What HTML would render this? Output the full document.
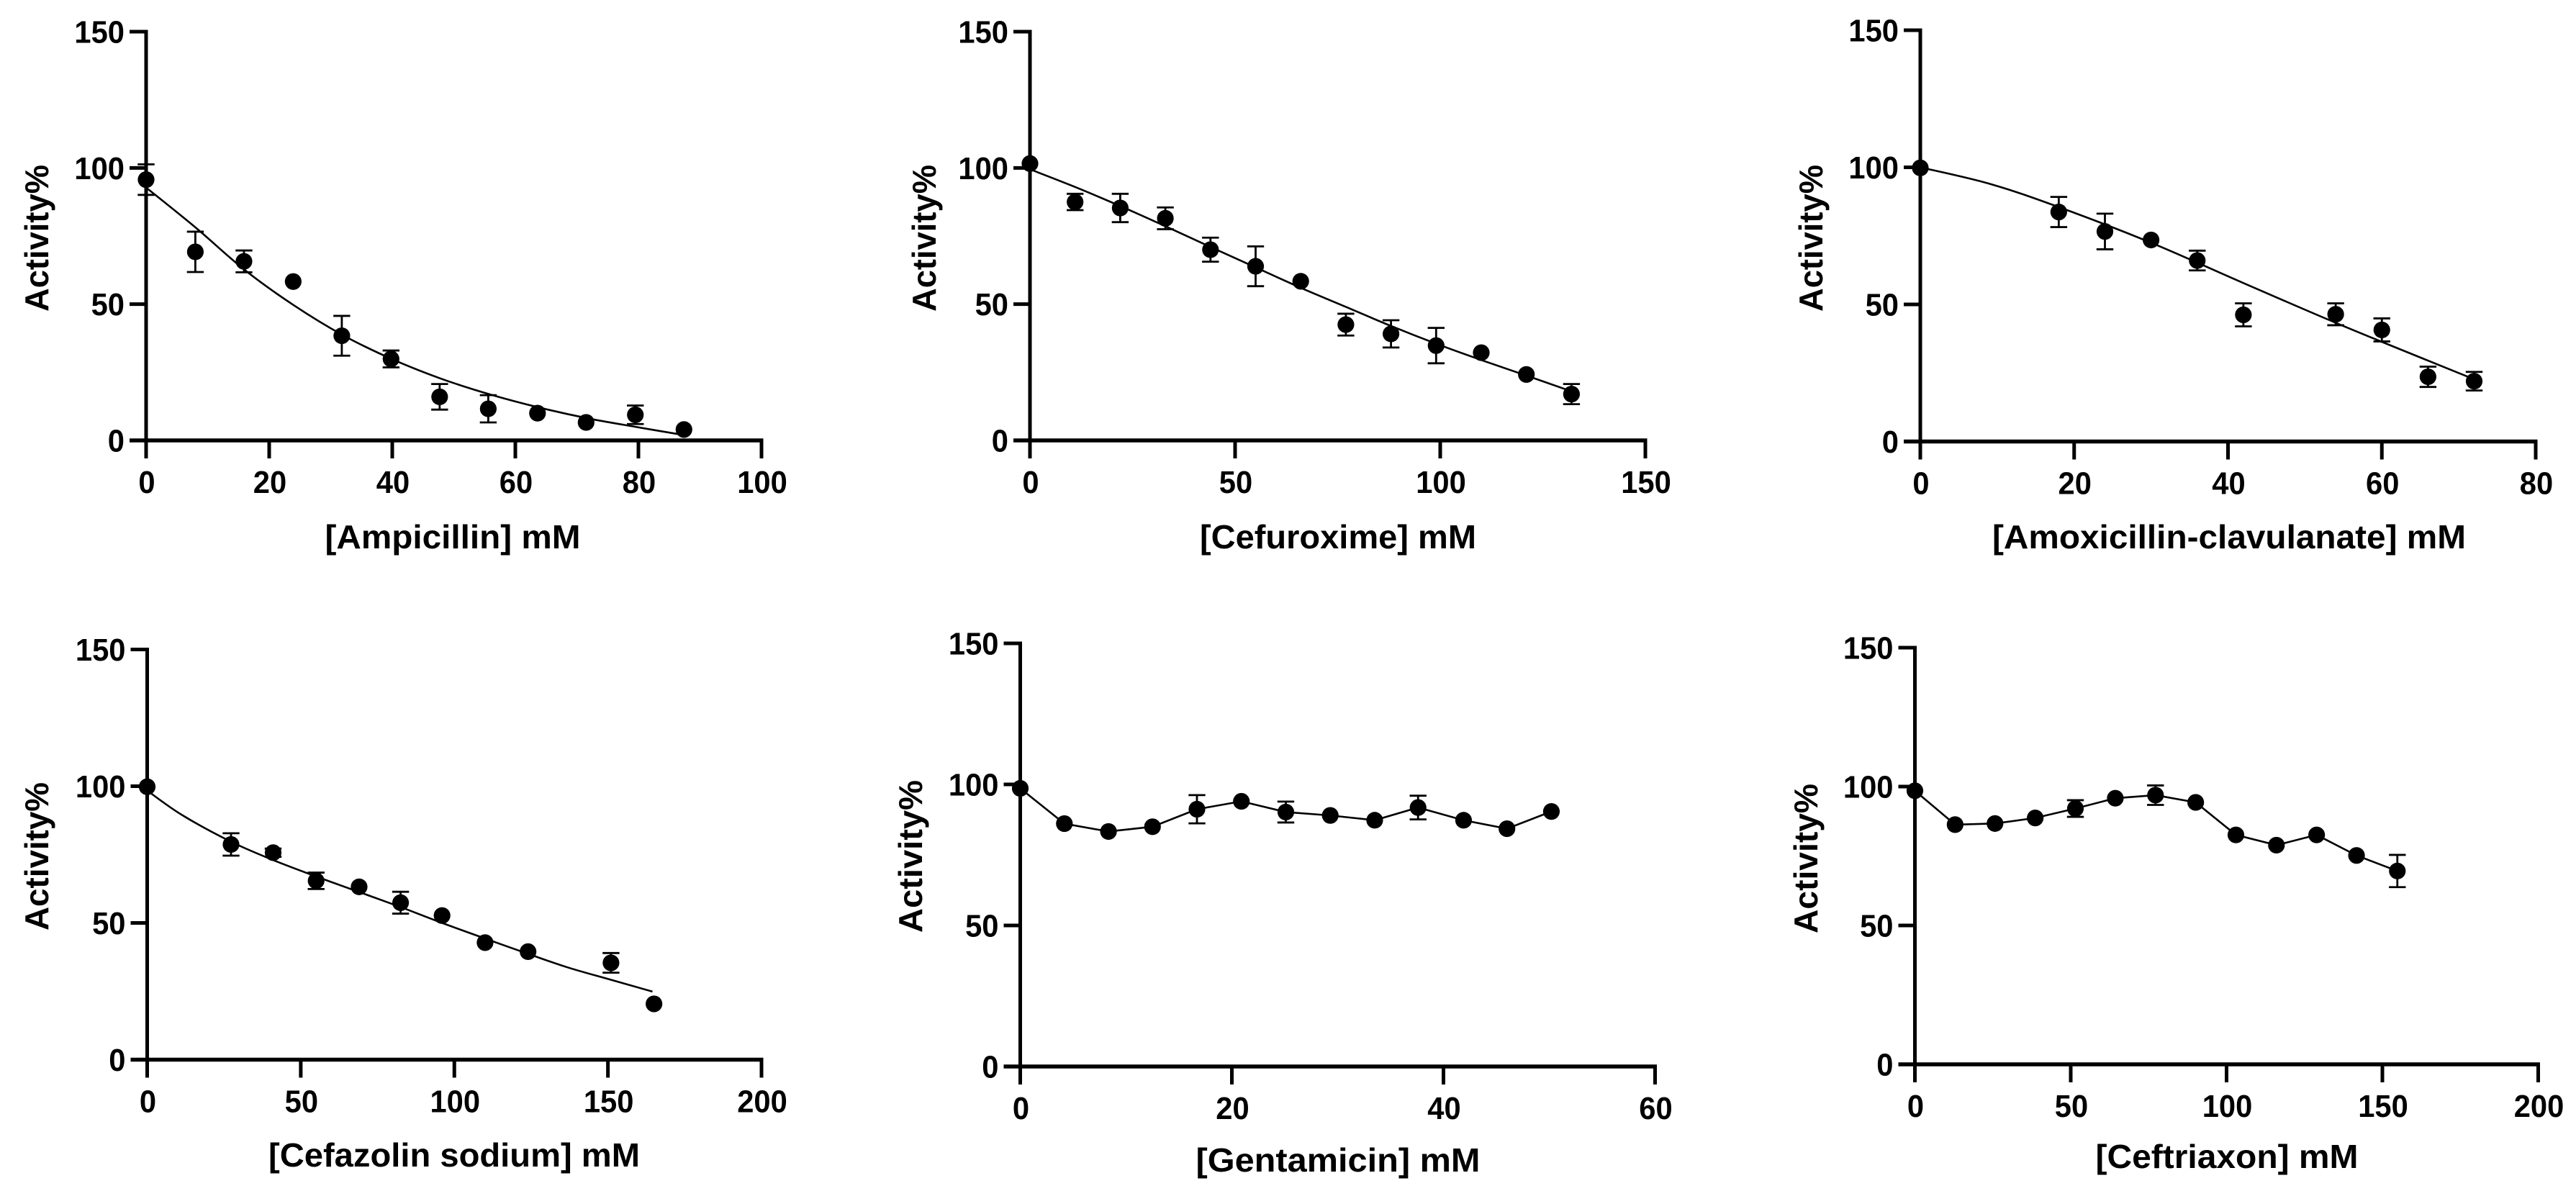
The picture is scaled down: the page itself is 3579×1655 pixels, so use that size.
<!DOCTYPE html>
<html lang="en">
<head>
<meta charset="utf-8">
<title>Enzyme activity versus antibiotic concentration</title>
<style>
html,body{margin:0;padding:0;background:#fff;width:3579px;height:1655px;overflow:hidden}
svg{display:block;position:absolute;left:0;top:0}
text{font-family:"Liberation Sans",Arial,sans-serif;font-weight:700;fill:#000}
</style>
</head>
<body>
<svg id="figure" xmlns="http://www.w3.org/2000/svg" width="3579" height="1655" viewBox="0 0 3579 1655"></svg>
<script>
const activityTicks = [0, 50, 100, 150];

const ampicillinConc = [0, 8, 15.9, 23.9, 31.8, 39.8, 47.7, 55.6, 63.6, 71.5, 79.5, 87.4];
const ampicillinActivity = [95.7, 69.2, 65.7, 58.3, 38.4, 29.9, 16, 11.6, 10, 6.6, 9.4, 4];
const ampicillinError = [5.6, 7.4, 4, 0, 7.3, 3.1, 4.7, 5, 0, 0, 3.4, 0];
const ampicillinFitConc = [0, 8, 16, 24, 32, 40, 48, 56, 64, 72, 80, 87.3];
const ampicillinFitActivity = [92.8, 78.2, 62.6, 49.6, 38.6, 29.8, 22.6, 16.8, 12, 8, 4.8, 2];
const ampicillinTicks = [0, 20, 40, 60, 80, 100];

const cefuroximeConc = [0, 11, 22, 33, 44, 55, 66, 77, 88, 99, 110, 121, 132];
const cefuroximeActivity = [101.6, 87.5, 85.3, 81.5, 70, 63.9, 58.4, 42.5, 39.1, 34.8, 32.2, 24.2, 17];
const cefuroximeError = [0, 3, 5.2, 4, 4.4, 7.3, 0, 4, 5, 6.5, 0, 0, 3.7];
const cefuroximeFitConc = [0, 11, 22, 33, 44, 55, 66, 77, 88, 99, 110, 121, 132];
const cefuroximeFitActivity = [99.5, 93, 86, 78.6, 71, 63.5, 56, 49, 42, 35.5, 29.5, 23.8, 18];
const cefuroximeTicks = [0, 50, 100, 150];

const amoxClavConc = [0, 18, 24, 30, 36, 42, 54, 60, 66, 72];
const amoxClavActivity = [99.8, 83.7, 76.6, 73.5, 66, 46.2, 46.4, 40.7, 23.6, 22];
const amoxClavError = [0, 5.5, 6.5, 0, 3.6, 4.2, 4, 4.2, 3.7, 3.4];
const amoxClavFitConc = [0, 9, 18, 30, 42, 54, 66, 72];
const amoxClavFitActivity = [100, 94, 85.5, 72.5, 57.8, 43.3, 29.5, 22.7];
const amoxClavTicks = [0, 20, 40, 60, 80];

const cefazolinConc = [0, 27.3, 41, 55, 69, 82.5, 96, 110, 124, 151, 165];
const cefazolinActivity = [99.8, 78.7, 75.7, 65.4, 63.2, 57.4, 52.7, 42.8, 39.5, 35.4, 20.4];
const cefazolinError = [0, 4.1, 1.5, 3, 0, 4, 0, 0, 0, 3.6, 0];
const cefazolinFitConc = [0, 11.3, 27.3, 41, 55, 69, 82.5, 96, 110, 124, 137, 151, 164.5];
const cefazolinFitActivity = [98.4, 89.5, 79.7, 73, 67, 61.3, 55.8, 50, 44.3, 38.7, 33.7, 29.2, 24.9];
const cefazolinTicks = [0, 50, 100, 150, 200];

const gentamicinConc = [0, 4.17, 8.34, 12.5, 16.7, 20.9, 25.1, 29.3, 33.5, 37.6, 41.9, 46, 50.2];
const gentamicinActivity = [98.6, 86.1, 83.3, 85, 91.2, 94, 90.2, 89, 87.3, 91.8, 87.3, 84.3, 90.4];
const gentamicinError = [0, 0, 0, 0, 5, 0, 3.7, 0, 0, 4.2, 0, 0, 0];
const gentamicinTicks = [0, 20, 40, 60];

const ceftriaxonConc = [0, 12.9, 25.7, 38.6, 51.5, 64.3, 77.2, 90.1, 103, 116, 128.9, 141.7, 154.8];
const ceftriaxonActivity = [98.5, 86.3, 86.7, 88.7, 92.1, 95.8, 96.9, 94.3, 82.6, 78.9, 82.6, 75.2, 69.6];
const ceftriaxonError = [0, 0, 0, 0, 3, 0, 3.5, 0, 0, 0, 0, 0, 5.8];
const ceftriaxonTicks = [0, 50, 100, 150, 200];

const panels = [
  {id:'ampicillin', x0:203, x1:1058, yTop:44, yZero:612, xMax:100, xs:ampicillinConc, ys:ampicillinActivity, errs:ampicillinError, fitX:ampicillinFitConc, fitY:ampicillinFitActivity, xTicks:ampicillinTicks, title:'[Ampicillin] mM', tx:629, tw:355, ty:762, ax:67, ay:331, ah:204},
  {id:'cefuroxime', x0:1431, x1:2286, yTop:44, yZero:612, xMax:150, xs:cefuroximeConc, ys:cefuroximeActivity, errs:cefuroximeError, fitX:cefuroximeFitConc, fitY:cefuroximeFitActivity, xTicks:cefuroximeTicks, title:'[Cefuroxime] mM', tx:1859, tw:384, ty:762, ax:1300, ay:331, ah:204},
  {id:'amoxicillin-clavulanate', x0:2668, x1:3523, yTop:42, yZero:613.5, xMax:80, xs:amoxClavConc, ys:amoxClavActivity, errs:amoxClavError, fitX:amoxClavFitConc, fitY:amoxClavFitActivity, xTicks:amoxClavTicks, title:'[Amoxicillin-clavulanate] mM', tx:3097, tw:658, ty:762, ax:2532, ay:331, ah:204},
  {id:'cefazolin-sodium', x0:204.5, x1:1058, yTop:902.5, yZero:1472.5, xMax:200, xs:cefazolinConc, ys:cefazolinActivity, errs:cefazolinError, fitX:cefazolinFitConc, fitY:cefazolinFitActivity, xTicks:cefazolinTicks, title:'[Cefazolin sodium] mM', tx:631, tw:516, ty:1621, ax:67, ay:1190, ah:206},
  {id:'gentamicin', x0:1417.5, x1:2299.5, yTop:894, yZero:1482, xMax:60, xs:gentamicinConc, ys:gentamicinActivity, errs:gentamicinError, fitX:gentamicinConc, fitY:gentamicinActivity, straight:true, xTicks:gentamicinTicks, title:'[Gentamicin] mM', tx:1859, tw:395, ty:1628, ax:1281, ay:1190, ah:212},
  {id:'ceftriaxon', x0:2660.5, x1:3526.5, yTop:900, yZero:1479, xMax:200, xs:ceftriaxonConc, ys:ceftriaxonActivity, errs:ceftriaxonError, fitX:ceftriaxonConc, fitY:ceftriaxonActivity, straight:true, xTicks:ceftriaxonTicks, title:'[Ceftriaxon] mM', tx:3094, tw:365, ty:1623, ax:2525, ay:1193, ah:208}
];

const NS = 'http://www.w3.org/2000/svg';
const root = document.getElementById('figure');

function make(tag, parent, attrs) {
  const el = document.createElementNS(NS, tag);
  for (const k in attrs) el.setAttribute(k, attrs[k]);
  parent.appendChild(el);
  return el;
}

function smoothPath(pts) {
  let d = 'M' + pts[0][0] + ' ' + pts[0][1];
  for (let i = 0; i < pts.length - 1; i++) {
    const p0 = pts[Math.max(i - 1, 0)], p1 = pts[i], p2 = pts[i + 1], p3 = pts[Math.min(i + 2, pts.length - 1)];
    const c1x = p1[0] + (p2[0] - p0[0]) / 6, c1y = p1[1] + (p2[1] - p0[1]) / 6;
    const c2x = p2[0] - (p3[0] - p1[0]) / 6, c2y = p2[1] - (p3[1] - p1[1]) / 6;
    d += ' C' + c1x + ' ' + c1y + ' ' + c2x + ' ' + c2y + ' ' + p2[0] + ' ' + p2[1];
  }
  return d;
}

function tickWidth(value) {
  return String(value).length * 23.2;
}

function drawPanel(p) {
  const sx = v => p.x0 + (p.x1 - p.x0) * v / p.xMax;
  const sy = v => p.yZero - (p.yZero - p.yTop) * v / 150;

  const g = make('g', root, {});
  
  

  const pts = p.fitX.map((v, i) => [sx(v), sy(p.fitY[i])]);
  const lineD = p.straight ? 'M' + pts.map(q => q[0] + ' ' + q[1]).join(' L') : smoothPath(pts);
  const fit = make('path', g, {d: lineD, fill: 'none', stroke: '#000', 'stroke-width': 2.6});
  
  

  const yAxis = make('line', g, {x1: p.x0, x2: p.x0, y1: p.yTop - 2.5, y2: p.yZero + 25, stroke: '#000', 'stroke-width': 5});
  
  

  const xAxis = make('line', g, {x1: p.x0 - 23, x2: p.x1 + 2.5, y1: p.yZero, y2: p.yZero, stroke: '#000', 'stroke-width': 5.5});
  
  

  activityTicks.forEach(t => {
    const tick = make('line', g, {x1: p.x0 - 23, x2: p.x0, y1: sy(t), y2: sy(t), stroke: '#000', 'stroke-width': 5});
    
    
    const label = make('text', g, {x: p.x0 - 30, y: sy(t) + 15.5, 'text-anchor': 'end', 'font-size': 44, textLength: tickWidth(t), lengthAdjust: 'spacingAndGlyphs'});
    
    
    label.textContent = t;
  });

  p.xTicks.forEach(t => {
    const tick = make('line', g, {x1: sx(t), x2: sx(t), y1: p.yZero, y2: p.yZero + 25, stroke: '#000', 'stroke-width': 5});
    
    
    const label = make('text', g, {x: sx(t) + 1, y: p.yZero + 73, 'text-anchor': 'middle', 'font-size': 44, textLength: tickWidth(t), lengthAdjust: 'spacingAndGlyphs'});
    
    
    label.textContent = t;
  });

  p.xs.forEach((v, i) => {
    const cx = sx(v), cy = sy(p.ys[i]), e = p.errs[i];
    if (e > 0) {
      const bar = make('path', g, {
        d: 'M' + cx + ' ' + sy(p.ys[i] + e) + ' V' + sy(p.ys[i] - e) +
           ' M' + (cx - 11.7) + ' ' + sy(p.ys[i] + e) + ' H' + (cx + 11.7) +
           ' M' + (cx - 11.7) + ' ' + sy(p.ys[i] - e) + ' H' + (cx + 11.7),
        fill: 'none', stroke: '#000', 'stroke-width': 2.8
      });
      
      
    }
    const dot = make('circle', g, {cx: cx, cy: cy, r: 11.6, fill: '#000'});
    
    
  });

  const xTitle = make('text', g, {x: p.tx, y: p.ty, 'text-anchor': 'middle', 'font-size': 46, textLength: p.tw, lengthAdjust: 'spacingAndGlyphs'});
  
  
  xTitle.textContent = p.title;

  const yTitle = make('text', g, {x: 0, y: 0, 'text-anchor': 'middle', 'font-size': 46, textLength: p.ah, lengthAdjust: 'spacingAndGlyphs', transform: 'translate(' + p.ax + ' ' + p.ay + ') rotate(-90)'});
  
  
  yTitle.textContent = 'Activity%';
}

panels.forEach(drawPanel);
</script>
</body>
</html>
